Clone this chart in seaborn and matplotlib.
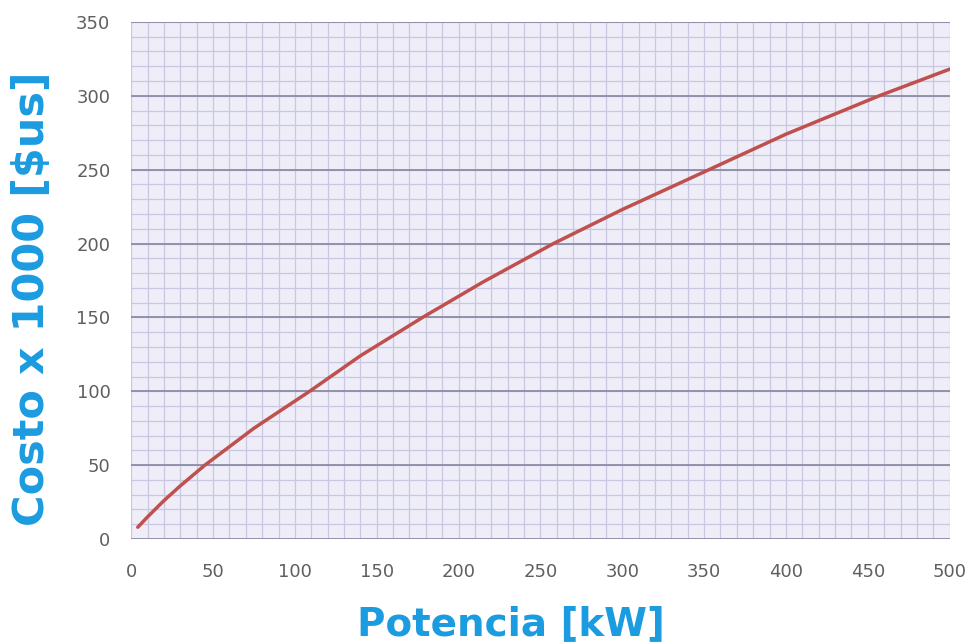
import matplotlib
matplotlib.use("Agg")
import matplotlib.pyplot as plt
import seaborn as sns
import pandas as pd
import numpy as np

potencia = [4, 10, 20, 30, 45, 75, 109, 140, 178, 215, 258, 300, 353, 400, 457, 500]
costo = [8, 15, 26, 36, 50, 75, 100, 124, 150, 174, 200, 223, 250, 274, 300, 318]
x_ticks = [0, 50, 100, 150, 200, 250, 300, 350, 400, 450, 500]
y_ticks = [0, 50, 100, 150, 200, 250, 300, 350]

sns.set_style("white")
plt.rcParams['font.family'] = ['DejaVu Sans']

df = pd.DataFrame({"Potencia": potencia, "Costo": costo})

fig = plt.figure(figsize=(9.72, 6.44), dpi=100)
ax = fig.add_axes([0.135, 0.163, 0.842, 0.803])
ax.set_facecolor("#eeedf8")

# graph-paper minor grid
for xv in np.arange(0, 501, 10):
    ax.axvline(xv, color="#c9c7e2", lw=0.9, zorder=0)
for yv in np.arange(0, 351, 10):
    ax.axhline(yv, color="#c9c7e2", lw=0.9, zorder=0)
for yv in y_ticks:
    ax.axhline(yv, color="#8d8ca6", lw=1.3, zorder=1)

sns.lineplot(data=df, x="Potencia", y="Costo", ax=ax, color="#c0504d", lw=2.5, zorder=3)

ax.set_xlim(0, 500)
ax.set_ylim(0, 350)
ax.set_xticks(x_ticks)
ax.set_yticks(y_ticks)
for s in ax.spines.values():
    s.set_visible(False)
ax.tick_params(axis="both", colors="#8d8ca6", labelcolor="#5f5f5f", labelsize=13, length=7, width=1.2)
ax.tick_params(axis="x", pad=10)
ax.tick_params(axis="y", pad=8)

ax.set_xlabel("Potencia [kW]", fontsize=28, fontweight="heavy", color="#1b9be0")
ax.set_ylabel("Costo x 1000 [$us]", fontsize=31, fontweight="heavy", color="#1b9be0")
ax.xaxis.set_label_coords(0.464, -0.128)
ax.yaxis.set_label_coords(-0.095, 0.464)

fig.savefig("out.png", dpi=100)
